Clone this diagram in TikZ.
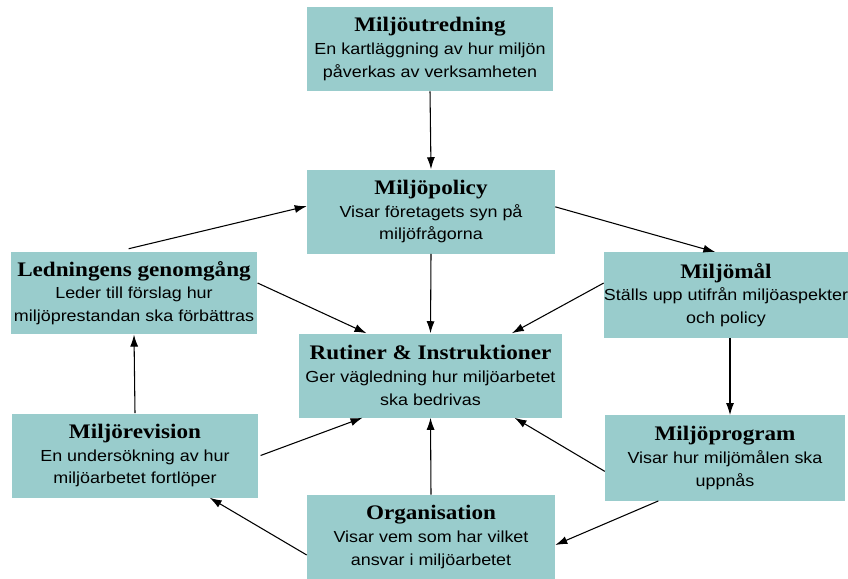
\documentclass[tikz,border=0pt]{standalone}
\usepackage{fontspec}
\setmainfont{Liberation Serif}[FakeStretch=1.12]
\setsansfont{Liberation Sans}[FakeStretch=1.12]
\usetikzlibrary{arrows.meta}
\definecolor{boxteal}{RGB}{153,204,204}
\newcommand{\rubrik}[1]{{\rmfamily\bfseries\fontsize{15.5}{17}\selectfont #1}\\}
\tikzset{
  ruta/.style={fill=boxteal,inner sep=0pt,align=center,
    minimum height=63pt,font=\sffamily\fontsize{12}{17}\selectfont},
}
\begin{document}
\begin{tikzpicture}[x=0.75pt,y=-0.75pt,>={Latex[length=9pt,width=6pt]}]
\useasboundingbox (0,0) rectangle (848,578);

\node[ruta,minimum width=185pt] (utr) at (430,49) {\rubrik{Miljöutredning}En kartläggning av hur miljön\\påverkas av verksamheten};
\node[ruta,minimum width=186pt] (pol) at (431,211.5) {\rubrik{Miljöpolicy}Visar företagets syn på\\miljöfrågorna};
\node[ruta,minimum width=185pt,minimum height=62pt] (led) at (134,293) {\rubrik{Ledningens genomgång}Leder till förslag hur\\miljöprestandan ska förbättras};
\node[ruta,minimum width=179pt,minimum height=64pt] (mal) at (726,295) {\rubrik{Miljömål}Ställs upp utifrån miljöaspekter\\och policy};
\node[ruta,minimum width=197pt] (rut) at (430.5,375.5) {\rubrik{Rutiner \& Instruktioner}Ger vägledning hur miljöarbetet\\ska bedrivas};
\node[ruta,minimum width=185pt] (rev) at (135,455.5) {\rubrik{Miljörevision}En undersökning av hur\\miljöarbetet fortlöper};
\node[ruta,minimum width=180pt,minimum height=64pt] (prog) at (725,458) {\rubrik{Miljöprogram}Visar hur miljömålen ska\\uppnås};
\node[ruta,minimum width=186pt] (org) at (431,537) {\rubrik{Organisation}Visar vem som har vilket\\ansvar i miljöarbetet};

% pilar
\draw[thick,->] (utr.south) -- (pol.north);
\draw[thick,->] ([xshift=-4pt,yshift=2pt]led.north) -- ([yshift=4pt]pol.west);
\draw[thick,->] ([yshift=3.5pt]pol.east) -- ([xshift=-8pt]mal.north);
\draw[thick,->] (pol.south) -- (rut.north);
\draw[thick,->] ([yshift=7.5pt]led.east) -- ([xshift=-48pt]rut.north);
\draw[thick,->] ([yshift=9pt]mal.west) -- ([xshift=61pt]rut.north);
\draw[thick,->] ([xshift=3pt]mal.south) -- ([xshift=3.75pt]prog.north);
\draw[thick,->] ([yshift=-10pt]prog.west) -- ([xshift=63pt]rut.south);
\draw[thick,->] ([xshift=-50pt]prog.south) -- ([yshift=-6pt]org.east);
\draw[thick,->] (org.north) -- (rut.south);
\draw[thick,->] ([yshift=-13.5pt]org.west) -- ([xshift=56pt]rev.south);
\draw[thick,->] ([xshift=1.5pt]rev.east) -- ([xshift=-51pt]rut.south);
\draw[thick,->] (rev.north) -- (led.south);
\end{tikzpicture}
\end{document}
